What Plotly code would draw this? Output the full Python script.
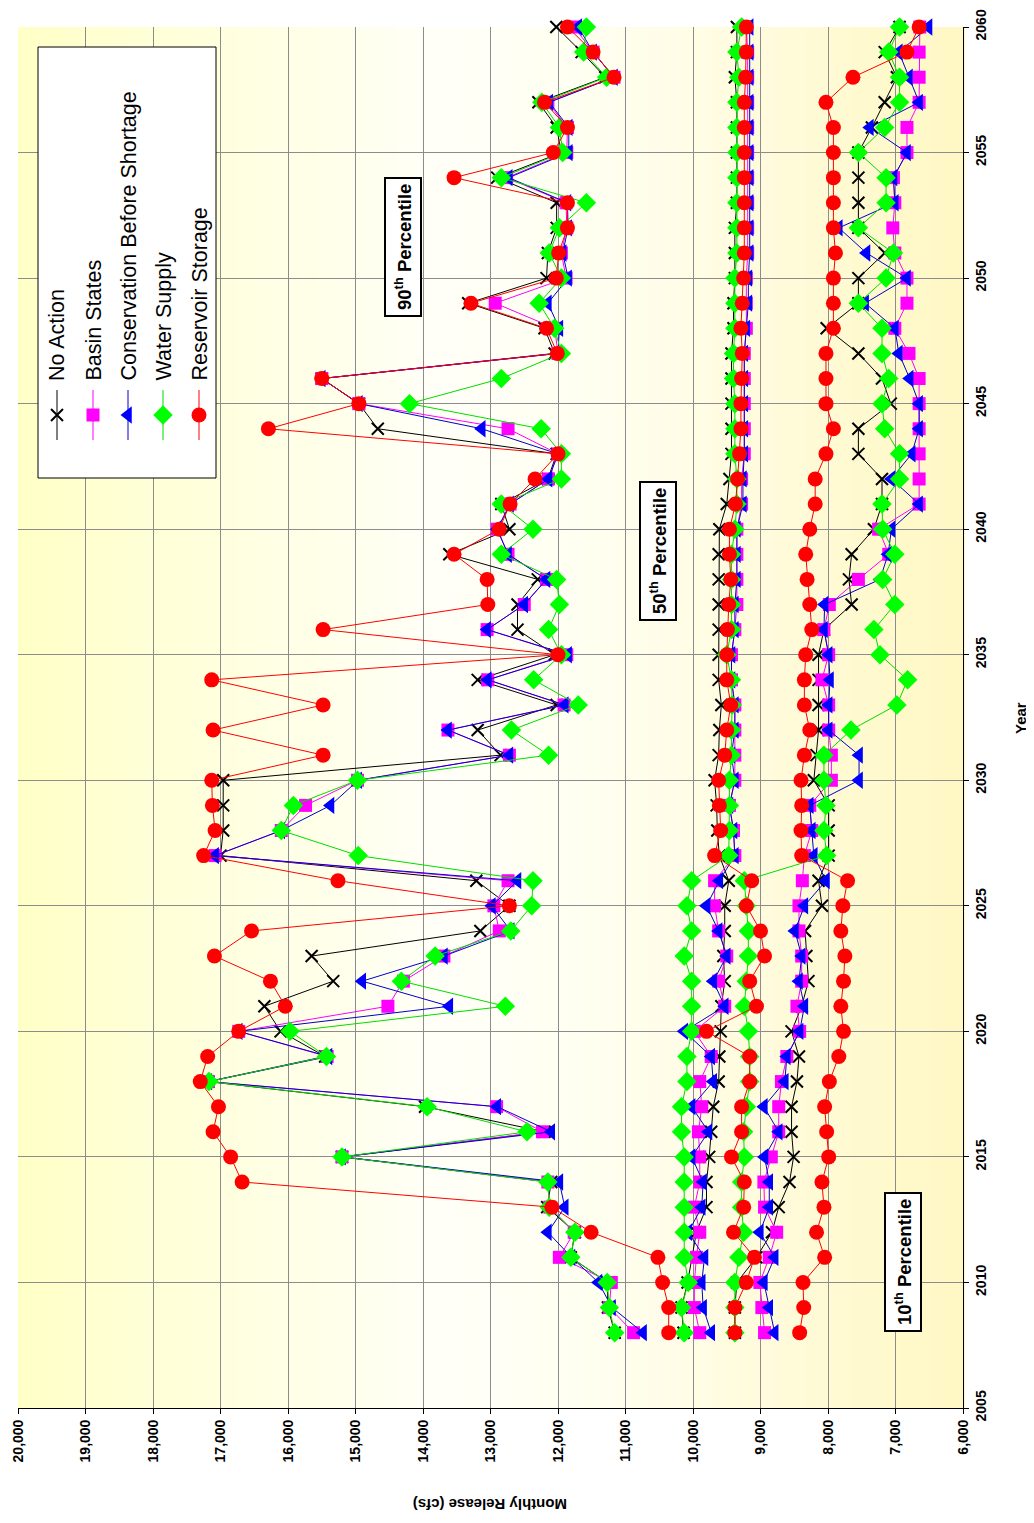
import plotly.graph_objects as go

# ---------------- data (monthly release, cfs) ----------------
years = list(range(2008, 2061))

NA90 = [11160, 11260, 11270, 11810, 11750, 12160, 12100, 15200, 12200, 13970,
        17180, 15450, 16110, 16350, 15330, 15650, 13150, 12720, 13210, 17000,
        16960, 16960, 16960, 12850, 13190, 12020, 13190, 12050, 12600, 12600,
        12300, 13610, 12720, 12840, 12150, 12020, 14670, 14950, 15500, 12050,
        12200, 13330, 12170, 12150, 12020, 12020, 12900, 11950, 12020, 12290,
        11300, 11650, 12025]
BS90 = [10880, 11240, 11210, 11980, 11760, 12120, 12150, 15200, 12230, 12910,
        17180, 15420, 16730, 14520, 14290, 13690, 12870, 12950, 12740, 17080,
        16100, 15740, 14970, 12720, 13630, 11910, 13040, 11870, 13050, 12500,
        12170, 12740, 12900, 12710, 12140, 12000, 12740, 14950, 15500, 12000,
        12050, 12930, 11880, 11950, 11870, 11880, 12760, 11870, 11860, 12150,
        11170, 11480, 11760]
CBS90 = [10740, 11200, 11400, 11800, 12150, 11900, 11980, 15200, 12100, 12900,
         17180, 15400, 16730, 13610, 14900, 13690, 12700, 12980, 12600, 17080,
         16100, 15370, 14960, 12720, 13630, 11900, 13040, 11850, 13050, 12500,
         12170, 12740, 12900, 12710, 12140, 12000, 13130, 14950, 15500, 12000,
         11980, 12150, 11850, 11930, 11850, 11860, 12730, 11840, 11840, 12130,
         11170, 11480, 11700]
WS90 = [11160, 11240, 11270, 11810, 11750, 12130, 12150, 15200, 12460, 13940,
        17170, 15430, 15970, 12780, 14320, 13820, 12700, 12390, 12370, 14960,
        16100, 15920, 14970, 12140, 12690, 11700, 12360, 11950, 12140, 11980,
        12020, 12840, 12370, 12840, 11950, 11950, 12250, 14200, 12840, 11950,
        12050, 12280, 11950, 12130, 11980, 11580, 12840, 11930, 11980, 12240,
        11280, 11620, 11580]
RS90 = [10360, 10360, 10450, 10520, 11510, 12090, 16680, 16850, 17110, 17030,
        17300, 17190, 16730, 16040, 16260, 17090, 16540, 12720, 15260, 17250,
        17080, 17120, 17130, 15480, 17110, 15480, 17130, 12000, 15480, 13040,
        13050, 13540, 12870, 12710, 12340, 12000, 16290, 14950, 15500, 12010,
        12170, 13290, 12025, 11990, 11860, 11860, 13540, 12070, 11860, 12200,
        11170, 11480, 11860]

NA50 = [10140, 10170, 10080, 10020, 9950, 9800, 9800, 9760, 9730, 9700,
        9620, 9610, 9590, 9580, 9530, 9550, 9530, 9530, 9470, 9610,
        9640, 9650, 9680, 9620, 9610, 9580, 9620, 9620, 9620, 9620,
        9620, 9620, 9610, 9500, 9460, 9430, 9430, 9430, 9430, 9430,
        9400, 9400, 9380, 9380, 9380, 9350, 9350, 9350, 9350, 9350,
        9380, 9350, 9350]
BS50 = [9900, 9980, 9980, 9950, 9900, 9980, 9900, 9900, 9920, 9870,
        9900, 9730, 9980, 9530, 9620, 9500, 9620, 9680, 9680, 9380,
        9400, 9460, 9380, 9380, 9380, 9380, 9430, 9430, 9380, 9350,
        9350, 9350, 9350, 9280, 9280, 9240, 9240, 9240, 9240, 9240,
        9210, 9210, 9210, 9190, 9190, 9190, 9190, 9190, 9190, 9190,
        9190, 9190, 9210]
CBS50 = [9730, 9850, 9870, 9830, 10070, 9870, 9850, 10020, 9770, 10020,
         9700, 9730, 10130, 9530, 9700, 9500, 9620, 9800, 9610, 9380,
         9400, 9460, 9380, 9430, 9380, 9380, 9430, 9430, 9380, 9380,
         9350, 9350, 9350, 9260, 9260, 9240, 9240, 9240, 9240, 9240,
         9210, 9180, 9180, 9160, 9160, 9160, 9160, 9160, 9160, 9160,
         9160, 9160, 9160]
WS50 = [10130, 10170, 10070, 10130, 10130, 10130, 10130, 10130, 10170, 10170,
        10090, 10090, 10020, 10020, 10020, 10130, 10020, 10090, 10020, 9470,
        9460, 9460, 9460, 9430, 9430, 9420, 9430, 9500, 9430, 9430,
        9430, 9430, 9380, 9350, 9350, 9380, 9380, 9380, 9400, 9400,
        9380, 9380, 9380, 9350, 9350, 9350, 9350, 9350, 9350, 9350,
        9320, 9350, 9280]
RS50 = [9380, 9380, 9210, 9090, 9400, 9250, 9240, 9430, 9280, 9280,
        9160, 9160, 9800, 9060, 9160, 8940, 9000, 9210, 9130, 9680,
        9590, 9610, 9620, 9530, 9500, 9440, 9500, 9500, 9490, 9470,
        9440, 9460, 9460, 9370, 9340, 9310, 9290, 9290, 9280, 9270,
        9290, 9270, 9250, 9240, 9240, 9240, 9240, 9240, 9240, 9240,
        9220, 9210, 9210]

NA10 = [9380, 9380, 9350, 9060, 8830, 8730, 8570, 8510, 8540, 8540,
        8460, 8430, 8540, 8390, 8290, 8320, 8340, 8090, 8140, 7990,
        7990, 7990, 8210, 8170, 8140, 8140, 8140, 8140, 8060, 7650,
        7690, 7650, 7320, 7200, 7200, 7550, 7550, 7070, 7200, 7550,
        8020, 7550, 7550, 7160, 7550, 7550, 7550, 7550, 7350, 7160,
        6980, 7160, 6940]
BS10 = [8940, 8980, 9010, 8870, 8760, 8940, 8950, 8840, 8730, 8730,
        8690, 8610, 8420, 8460, 8390, 8390, 8430, 8430, 8380, 8350,
        8240, 8270, 7950, 7950, 7990, 7990, 8090, 7990, 8060, 7980,
        7550, 7100, 7250, 6650, 6650, 6650, 6650, 6650, 6650, 6800,
        7010, 6830, 6830, 7010, 7040, 7010, 7030, 6830, 6830, 6650,
        6650, 6650, 6640]
CBS10 = [8790, 8870, 8950, 8790, 9010, 8870, 8870, 8940, 8730, 8950,
         8640, 8610, 8420, 8350, 8430, 8390, 8490, 8350, 8030, 8210,
         8240, 8270, 7540, 7540, 7990, 7990, 7970, 7990, 8060, 8050,
         7230, 7110, 7060, 6650, 7060, 6760, 6650, 6650, 6790, 6950,
         7010, 7450, 6830, 7430, 7840, 7010, 7030, 6830, 7380, 6650,
         6800, 6950, 6510]
WS10 = [9380, 9380, 9380, 9320, 9250, 9280, 9280, 9240, 9250, 9210,
        9160, 9160, 9180, 9240, 9210, 9180, 9180, 9210, 9240, 8020,
        8060, 8030, 8060, 8060, 7660, 6980, 6820, 7230, 7320, 7010,
        7190, 7010, 7190, 7200, 6940, 6940, 7160, 7200, 7100, 7200,
        7200, 7550, 7140, 7030, 7550, 7140, 7140, 7550, 7160, 6940,
        6940, 7100, 6940]
RS10 = [8420, 8360, 8370, 8050, 8170, 8060, 8090, 7990, 8020, 8050,
        7980, 7840, 7770, 7810, 7770, 7750, 7810, 7780, 7710, 8390,
        8400, 8390, 8400, 8350, 8270, 8350, 8350, 8330, 8240, 8270,
        8310, 8330, 8270, 8190, 8190, 8030, 7920, 8030, 8030, 8030,
        7920, 7920, 7920, 7890, 7920, 7920, 7920, 7920, 7920, 8030,
        7630, 6830, 6650]

series_names = ["No Action", "Basin States", "Conservation Before Shortage",
                "Water Supply", "Reservoir Storage"]
series_data = {
    "No Action": [NA90, NA50, NA10],
    "Basin States": [BS90, BS50, BS10],
    "Conservation Before Shortage": [CBS90, CBS50, CBS10],
    "Water Supply": [WS90, WS50, WS10],
    "Reservoir Storage": [RS90, RS50, RS10],
}
x_ticks = list(range(6000, 20001, 1000))
y_ticks = list(range(2005, 2061, 5))

# ---------------- styles ----------------
style = {
    "No Action": dict(line="#000000", mcolor="#000000", symbol="x-thin", size=12),
    "Basin States": dict(line="#FF00FF", mcolor="#FF00FF", symbol="square", size=13),
    "Conservation Before Shortage": dict(line="#0000CC", mcolor="#0000FF", symbol="triangle-left", size=15),
    "Water Supply": dict(line="#00DD00", mcolor="#00FF00", symbol="diamond", size=15),
    "Reservoir Storage": dict(line="#FF0000", mcolor="#FF0000", symbol="circle", size=15),
}

FONT = "Liberation Sans, Arial, sans-serif"

# plot area in page pixels (page has an 8px body margin)
OFF = 8
L, R, T, B = 18, 963, 27, 1408
W, H = 1034 - OFF, 1523 - OFF

fig = go.Figure()


def marker_for(name):
    s = style[name]
    if s["symbol"] == "x-thin":
        return dict(symbol="x-thin", size=s["size"], color=s["mcolor"],
                    line=dict(color=s["mcolor"], width=2))
    return dict(symbol=s["symbol"], size=s["size"], color=s["mcolor"],
                line=dict(width=0))


for name in series_names:
    for vals in series_data[name]:
        fig.add_trace(go.Scatter(
            x=vals, y=years, mode="lines+markers",
            line=dict(color=style[name]["line"], width=1),
            marker=marker_for(name), showlegend=False, hoverinfo="skip",
            cliponaxis=False))

# ---------------- background gradient (plot area) ----------------
def lerp(a, b, t):
    return tuple(a[i] + (b[i] - a[i]) * t for i in range(3))

stops = [(0.0, (255, 255, 200)), (0.45, (255, 255, 248)), (0.62, (255, 255, 240)), (1.0, (255, 248, 196))]
nb = 60
shapes = []
for i in range(nb):
    t = (i + 0.5) / nb
    for j in range(len(stops) - 1):
        if stops[j][0] <= t <= stops[j + 1][0]:
            tt = (t - stops[j][0]) / (stops[j + 1][0] - stops[j][0])
            c = lerp(stops[j][1], stops[j + 1][1], tt)
            break
    shapes.append(dict(type="rect", xref="paper", yref="paper",
                       x0=i / nb, x1=(i + 1) / nb + 0.002, y0=0, y1=1,
                       fillcolor="rgb(%d,%d,%d)" % c, line=dict(width=0),
                       layer="below"))

annotations = []

# legend box drawn as a filled trace (page-pixel coordinates on overlay axes)
fig.add_trace(go.Scatter(x=[38, 216, 216, 38, 38], y=[47, 47, 478, 478, 47],
                         xaxis="x2", yaxis="y2", mode="lines", fill="toself",
                         fillcolor="white", line=dict(color="black", width=1),
                         showlegend=False, hoverinfo="skip"))

leg_x = [57, 93, 128, 163, 199]
for name, lx in zip(series_names, leg_x):
    s = style[name]
    fig.add_trace(go.Scatter(x=[lx, lx], y=[390, 440], xaxis="x2", yaxis="y2", mode="lines",
                             line=dict(color=s["line"], width=1), showlegend=False, hoverinfo="skip"))
    fig.add_trace(go.Scatter(x=[lx], y=[415], xaxis="x2", yaxis="y2", mode="markers",
                             marker=marker_for(name), showlegend=False, hoverinfo="skip"))
    annotations.append(dict(xref="x2", yref="y2", x=lx, y=383, text=name, showarrow=False,
                            textangle=-90, xanchor="center", yanchor="bottom",
                            font=dict(family=FONT, size=21.5, color="black")))

# percentile labels
for txt, px, py in [("90<sup>th</sup> Percentile", 403, 247),
                    ("50<sup>th</sup> Percentile", 658, 551),
                    ("10<sup>th</sup> Percentile", 903, 1262)]:
    annotations.append(dict(xref="x2", yref="y2", x=px, y=py, text="<b>" + txt + "</b>",
                            showarrow=False, textangle=-90, bgcolor="white",
                            bordercolor="black", borderwidth=2, borderpad=5,
                            xanchor="center", yanchor="middle",
                            font=dict(family=FONT, size=18.5, color="black")))

# axis titles
annotations.append(dict(xref="paper", yref="paper", x=(490 - L) / (R - L), y=(B - 1505) / (B - T),
                        xanchor="center", yanchor="middle",
                        text="<b>Monthly Release (cfs)</b>", showarrow=False, textangle=180,
                        font=dict(family=FONT, size=15, color="black")))
annotations.append(dict(xref="paper", yref="paper", x=(1020 - L) / (R - L), y=(B - 718) / (B - T),
                        xanchor="center", yanchor="middle",
                        text="<b>Year</b>", showarrow=False, textangle=-90,
                        font=dict(family=FONT, size=15, color="black")))

tickfont = dict(family=FONT, size=14, color="black", weight="bold")

fig.update_layout(
    width=W, height=H,
    margin=dict(l=L - OFF, r=W - (R - OFF), t=T - OFF, b=H - (B - OFF), pad=0, autoexpand=False),
    paper_bgcolor="white", plot_bgcolor="white",
    showlegend=False,
    shapes=shapes, annotations=annotations,
    xaxis=dict(range=[20000, 6000], tickvals=x_ticks, tickformat=",d", tickangle=-90,
               showgrid=True, gridcolor="#8c8c8c", gridwidth=1, zeroline=False,
               showline=True, linecolor="black", linewidth=1, mirror=False,
               ticks="outside", ticklen=5, tickcolor="black", tickfont=tickfont,
               automargin=False),
    yaxis=dict(range=[2005, 2060], tickvals=y_ticks, side="right", tickangle=-90,
               showgrid=True, gridcolor="#8c8c8c", gridwidth=1, zeroline=False,
               showline=True, linecolor="black", linewidth=1, mirror=False,
               ticks="outside", ticklen=5, tickcolor="black", tickfont=tickfont,
               automargin=False),
    xaxis2=dict(range=[L, R], overlaying="x", visible=False, fixedrange=True),
    yaxis2=dict(range=[B, T], overlaying="y", visible=False, fixedrange=True),
)

fig.write_html("out.html")
